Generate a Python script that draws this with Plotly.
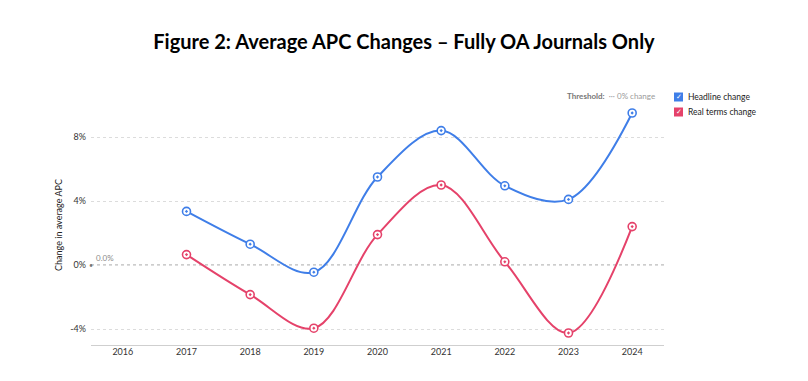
import plotly.graph_objects as go

years = ["2016", "2017", "2018", "2019", "2020", "2021", "2022", "2023", "2024"]
plot_years = ["2017", "2018", "2019", "2020", "2021", "2022", "2023", "2024"]
headline = [3.35, 1.3, -0.45, 5.5, 8.4, 4.95, 4.1, 9.5]
real_terms = [0.65, -1.85, -3.95, 1.9, 5.0, 0.2, -4.25, 2.4]
y_ticks = [-4, 0, 4, 8]
y_tick_labels = ["-4%", "0%", "4%", "8%"]

BLUE = "#3f7ee8"
RED = "#e5426a"
FONT = "Lato"

OFF = 8  # page body margin
W, H = 808 - 2 * OFF, 381 - 2 * OFF
L, R, T, B = 91 - OFF, 664 - OFF, 105 - OFF, 345 - OFF
def px(x):
    return (x - OFF - L) / (R - L)
def py(y):
    return (B - (y - OFF)) / (B - T)

fig = go.Figure()
fig.add_trace(go.Scatter(x=years, y=[None] * len(years), showlegend=False, hoverinfo="skip"))
for name, vals, col in [("Headline change", headline, BLUE), ("Real terms change", real_terms, RED)]:
    fig.add_trace(go.Scatter(
        x=plot_years, y=vals, name=name, mode="lines+markers",
        line=dict(color=col, width=2, shape="spline", smoothing=1.0),
        marker=dict(symbol="circle-dot", size=8, color="white", line=dict(color=col, width=1.6)),
        showlegend=False,
    ))

# threshold line at 0
fig.add_shape(type="line", xref="paper", yref="y", x0=0, x1=1, y0=0, y1=0,
              line=dict(color="#9a9a9a", width=1, dash="dot"), layer="below")
fig.add_annotation(xref="paper", yref="y", x=px(94), y=0, text="0.0%", showarrow=False,
                   xanchor="left", yanchor="bottom", yshift=0,
                   font=dict(family=FONT, size=8, color="#8a8a8a"))
fig.add_annotation(xref="paper", yref="y", x=0.0, y=0, text="•", showarrow=False,
                   xanchor="center", yanchor="middle",
                   font=dict(family=FONT, size=7, color="#777"))

# title
fig.update_layout(
    title=dict(text="<b>Figure 2: Average APC Changes – Fully OA Journals Only</b>",
               x=0.5, xanchor="center", y=1 - (42 - OFF) / H, yanchor="middle", yref="container",
               font=dict(family=FONT, size=20, color="#000")),
)

# threshold text
fig.add_annotation(xref="paper", yref="paper", x=px(565), y=py(96), xanchor="left", yanchor="middle",
                   text="<b>Threshold:</b>  <span style='color:#9a9a9a'>∙∙∙ 0% change</span>",
                   showarrow=False, font=dict(family=FONT, size=8, color="#777"))

# custom legend
for i, (name, col) in enumerate([("Headline change", BLUE), ("Real terms change", RED)]):
    yc = 97 + i * 15
    fig.add_shape(type="rect", xref="paper", yref="paper",
                  x0=px(674), x1=px(683), y0=py(yc + 4.5), y1=py(yc - 4.5),
                  fillcolor=col, line=dict(width=0))
    fig.add_annotation(xref="paper", yref="paper", x=px(678.5), y=py(yc), text="✓",
                       showarrow=False, xanchor="center", yanchor="middle",
                       font=dict(family="DejaVu Sans", size=7, color="white"))
    fig.add_annotation(xref="paper", yref="paper", x=px(686), y=py(yc), text=name,
                       showarrow=False, xanchor="left", yanchor="middle",
                       font=dict(family=FONT, size=8.5, color="#222"))

fig.update_layout(
    width=W, height=H,
    margin=dict(l=L, r=W - R, t=T, b=H - B, autoexpand=False),
    paper_bgcolor="white", plot_bgcolor="white",
    xaxis=dict(type="category", categoryorder="array", categoryarray=years, automargin=False,
               range=[-0.5, 8.5], showgrid=False, showline=True, linecolor="#cfcfcf", linewidth=1,
               ticks="", ticklabelstandoff=-2,
               tickfont=dict(family=FONT, size=9, color="#333"), fixedrange=True),
    yaxis=dict(range=[-5, 10], tickvals=y_ticks, ticktext=y_tick_labels, automargin=False,
               showgrid=True, gridcolor="#dcdcdc", griddash="dot", gridwidth=1, zeroline=False,
               tickfont=dict(family=FONT, size=9, color="#333"), ticks="", ticklabelstandoff=4,
               title=dict(text="Change in average APC", font=dict(family=FONT, size=9, color="#222"),
                          standoff=6)),
)

fig.write_html("out.html")
